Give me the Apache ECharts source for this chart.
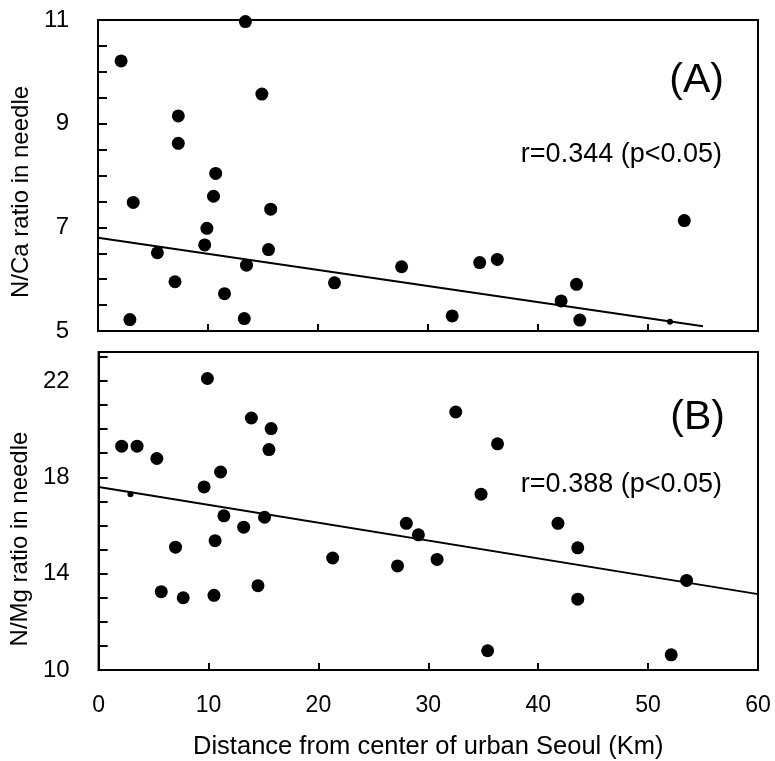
<!DOCTYPE html>
<html>
<head>
<meta charset="utf-8">
<script src="https://cdn.jsdelivr.net/npm/echarts@6/dist/echarts.min.js"></script>
<style>
  html, body { margin: 0; padding: 0; background: #fff; }
  #chart { width: 775px; height: 761px; }
</style>
</head>
<body>
<div id="chart"></div>
<script>
  // panel A: N/Ca ratio
  const caDist = [2.1, 13.4, 14.9, 7.3, 7.3, 10.7, 10.5, 3.2, 15.7, 9.9, 9.7, 15.5, 5.4, 13.5, 7.0, 11.5, 21.5, 2.9, 13.3, 27.6, 32.2, 34.7, 36.3, 43.5, 42.1, 43.8, 53.3];
  const caRatio = [10.21, 10.97, 9.57, 9.15, 8.62, 8.04, 7.60, 7.48, 7.35, 6.98, 6.66, 6.57, 6.51, 6.27, 5.95, 5.72, 5.93, 5.22, 5.24, 6.24, 5.29, 6.32, 6.38, 5.90, 5.58, 5.21, 7.13];
  const caSmallDist = [52.0];
  const caSmallRatio = [5.18];
  const caFitDist = [0, 55];
  const caFitRatio = [6.8, 5.09];

  // panel B: N/Mg ratio
  const mgDist = [9.9, 13.9, 15.7, 2.1, 3.5, 15.5, 5.3, 11.1, 9.6, 11.4, 15.1, 13.2, 10.6, 7.0, 21.3, 27.2, 28.0, 29.1, 30.8, 5.7, 7.7, 10.5, 14.5, 32.5, 36.3, 34.8, 41.8, 43.6, 43.6, 53.5, 35.4, 52.1];
  const mgRatio = [22.1, 20.46, 20.02, 19.29, 19.29, 19.15, 18.78, 18.22, 17.6, 16.4, 16.34, 15.93, 15.37, 15.1, 14.65, 14.32, 16.09, 15.61, 14.59, 13.25, 13.0, 13.1, 13.5, 20.71, 19.39, 17.3, 16.09, 15.07, 12.94, 13.72, 10.8, 10.63];
  const mgSmallDist = [2.9];
  const mgSmallRatio = [17.3];
  const mgFitDist = [0, 60];
  const mgFitRatio = [17.6, 13.15];

  const xTicks = [0, 10, 20, 30, 40, 50, 60];
  const caLabels = [5, 7, 9, 11];
  const mgLabels = [10, 14, 18, 22];

  const font = 'Liberation Sans, Arial, sans-serif';
  const pairs = (xs, ys) => xs.map((x, i) => [x, ys[i]]);

  const xAxisBase = {
    type: 'value',
    min: 0,
    max: 60,
    interval: 10,
    axisLine: { lineStyle: { color: '#000', width: 2 } },
    axisTick: { inside: true, length: 7, lineStyle: { color: '#000', width: 2 } },
    splitLine: { show: false },
  };

  const yAxisBase = {
    type: 'value',
    nameLocation: 'middle',
    nameGap: 63,
    axisLine: { lineStyle: { color: '#000', width: 2 } },
    axisTick: { inside: true, length: 9, lineStyle: { color: '#000', width: 2 } },
    splitLine: { show: false },
  };

  const dot = { color: '#000', opacity: 1 };

  const chart = echarts.init(document.getElementById('chart'));

  chart.setOption({
    animation: false,
    backgroundColor: '#fff',
    grid: [
      { left: 98, right: 17, top: 20, height: 311, show: true, borderColor: '#000', borderWidth: 2 },
      { left: 98, right: 17, top: 352, height: 320, show: true, borderColor: '#000', borderWidth: 2 },
    ],
    xAxis: [
      Object.assign({}, xAxisBase, { gridIndex: 0, axisLabel: { show: false } }),
      Object.assign({}, xAxisBase, {
        gridIndex: 1,
        name: 'Distance from center of urban Seoul (Km)',
        nameLocation: 'middle',
        nameGap: 64,
        nameTextStyle: { fontFamily: font, fontSize: 25.5, color: '#000' },
        axisLabel: {
          margin: 24,
          fontFamily: font,
          fontSize: 23,
          color: '#000',
          formatter: (v) => (xTicks.includes(v) ? String(v) : ''),
        },
      }),
    ],
    yAxis: [
      Object.assign({}, yAxisBase, {
        gridIndex: 0,
        min: 5,
        max: 11,
        interval: 0.5,
        name: 'N/Ca ratio in needle',
        nameTextStyle: { fontFamily: font, fontSize: 24, color: '#000', padding: [0, 33, 0, 0] },
        axisLabel: {
          margin: 29,
          fontFamily: font,
          fontSize: 24,
          color: '#000',
          padding: [6, 0, 0, 0],
          formatter: (v) => (caLabels.includes(v) ? String(v) : ''),
        },
      }),
      Object.assign({}, yAxisBase, {
        gridIndex: 1,
        min: 10,
        max: 23.2,
        interval: 1,
        name: 'N/Mg ratio in needle',
        nameTextStyle: { fontFamily: font, fontSize: 24, color: '#000', padding: [0, 56, 0, 0] },
        axisLabel: {
          margin: 29,
          fontFamily: font,
          fontSize: 24,
          color: '#000',
          padding: [4, 0, 0, 0],
          formatter: (v) => (mgLabels.includes(v) ? String(v) : ''),
        },
      }),
    ],
    series: [
      {
        type: 'line',
        xAxisIndex: 0,
        yAxisIndex: 0,
        data: pairs(caFitDist, caFitRatio),
        symbol: 'none',
        lineStyle: { color: '#000', width: 2 },
        z: 1,
      },
      {
        type: 'scatter',
        xAxisIndex: 0,
        yAxisIndex: 0,
        data: pairs(caDist, caRatio),
        symbolSize: 13,
        itemStyle: dot,
        z: 2,
      },
      {
        type: 'scatter',
        xAxisIndex: 0,
        yAxisIndex: 0,
        data: pairs(caSmallDist, caSmallRatio),
        symbolSize: 6,
        itemStyle: dot,
        z: 2,
      },
      {
        type: 'line',
        xAxisIndex: 1,
        yAxisIndex: 1,
        data: pairs(mgFitDist, mgFitRatio),
        symbol: 'none',
        lineStyle: { color: '#000', width: 2 },
        z: 1,
      },
      {
        type: 'scatter',
        xAxisIndex: 1,
        yAxisIndex: 1,
        data: pairs(mgDist, mgRatio),
        symbolSize: 13,
        itemStyle: dot,
        z: 2,
      },
      {
        type: 'scatter',
        xAxisIndex: 1,
        yAxisIndex: 1,
        data: pairs(mgSmallDist, mgSmallRatio),
        symbolSize: 6,
        itemStyle: dot,
        z: 2,
      },
    ],
    graphic: [
      { type: 'text', right: 51, top: 60, style: { text: '(A)', fontFamily: font, fontSize: 41, fill: '#000' } },
      { type: 'text', right: 53, top: 141, style: { text: 'r=0.344 (p<0.05)', fontFamily: font, fontSize: 27, fill: '#000' } },
      { type: 'text', right: 50, top: 397, style: { text: '(B)', fontFamily: font, fontSize: 41, fill: '#000' } },
      { type: 'text', right: 53, top: 471, style: { text: 'r=0.388 (p<0.05)', fontFamily: font, fontSize: 27, fill: '#000' } },
    ],
  });
</script>
</body>
</html>
